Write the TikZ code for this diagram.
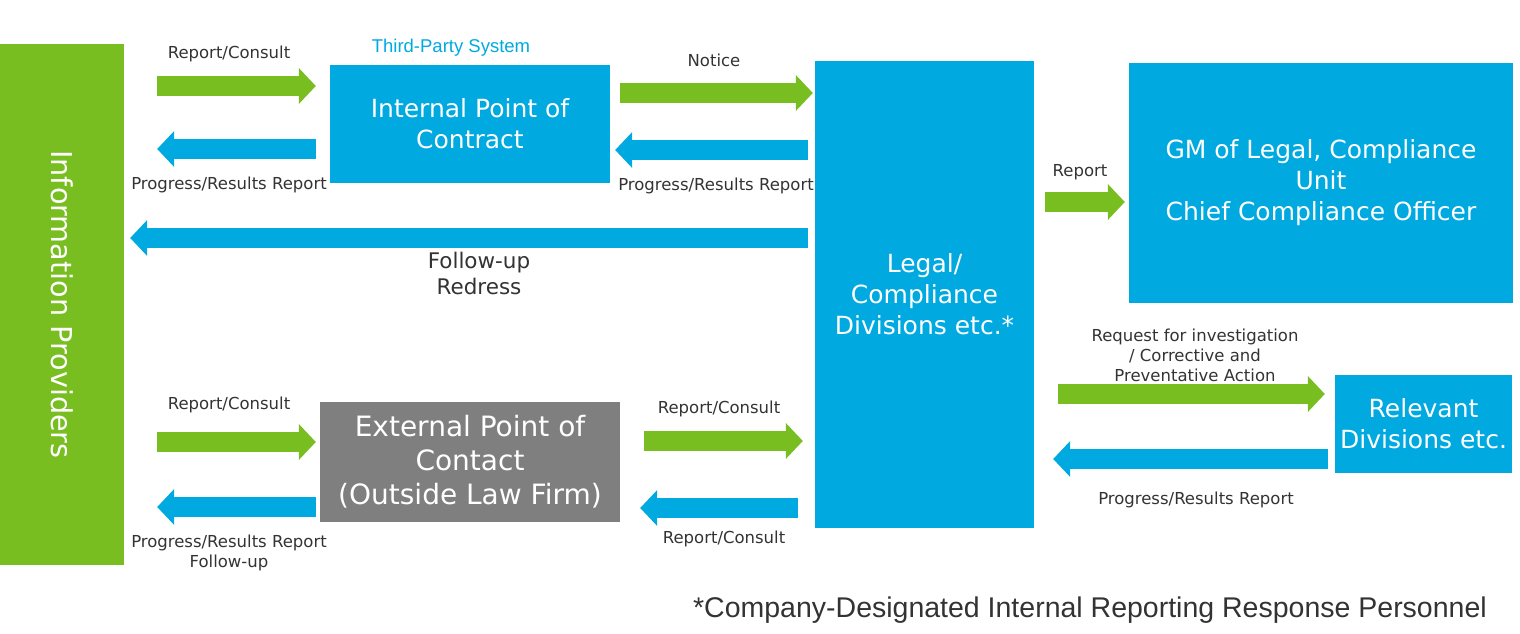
\documentclass[tikz,border=0pt]{standalone}
\usepackage{fontspec}
\setmainfont{DejaVu Sans}
\newfontfamily\arialfont{Liberation Sans}
\usepackage{tikz}
\usetikzlibrary{arrows.meta, positioning}

\definecolor{grn}{HTML}{78BE20}
\definecolor{blu}{HTML}{00A9E0}
\definecolor{gry}{HTML}{7F7F7F}
\definecolor{txt}{HTML}{333333}

\begin{document}
\begin{tikzpicture}[
  x=1pt, y=-1pt,
  box/.style={fill=blu, text=white, align=center, inner sep=0pt, font=\fontsize{25}{31}\selectfont},
  lbl/.style={text=txt, align=center, inner sep=0pt, font=\fontsize{16.5}{20}\selectfont},
  garrow/.style={draw=grn, line width=20pt, -{Triangle[length=17pt, width=36pt, line width=0pt]}},
  barrow/.style={draw=blu, line width=20pt, -{Triangle[length=17pt, width=36pt, line width=0pt]}}
]
\useasboundingbox (0,0) rectangle (1520,634);

% boxes
\node[box, fill=grn, minimum width=124pt, minimum height=521pt, font=\fontsize{28.7}{34}\selectfont] (info) at (62,304.5) {\rotatebox{-90}{Information Providers}};
\node[box, minimum width=280pt, minimum height=118pt] (ip) at (470,124) {Internal Point of\\Contract};
\node[box, minimum width=219pt, minimum height=467pt] (legal) at (924.5,294.5) {Legal/\\Compliance\\Divisions etc.*};
\node[box, minimum width=384pt, minimum height=240pt] (gm) at (1321,183) {GM of Legal, Compliance\\Unit\\Chief Compliance Officer};
\node[box, fill=gry, minimum width=300pt, minimum height=120pt, font=\fontsize{28}{34}\selectfont] (ext) at (470,462) {External Point of\\Contact\\(Outside Law Firm)};
\node[box, minimum width=177pt, minimum height=98pt] (rel) at (1423.5,424) {Relevant\\Divisions etc.};

% labels
\node[lbl, text=blu, font=\arialfont\fontsize{18.5}{22}\selectfont] (third) at (451,48) {Third-Party System};
\node[lbl] (rc1) at (229,54) {Report/Consult};
\node[lbl] (pr1) at (229,185) {Progress/Results Report};
\node[lbl] (notice) at (714,60) {Notice};
\node[lbl] (pr2) at (716,186) {Progress/Results Report};
\node[lbl, font=\fontsize{21.5}{26}\selectfont] (follow) at (479,273) {Follow-up\\Redress};
\node[lbl] (rep) at (1080,172) {Report};
\node[lbl] (rc2) at (229,405) {Report/Consult};
\node[lbl] (pr3) at (229,553) {Progress/Results Report\\Follow-up};
\node[lbl] (rc3) at (719,409) {Report/Consult};
\node[lbl] (rc4) at (724,539) {Report/Consult};
\node[lbl] (req) at (1195,355) {Request for investigation\\/ Corrective and\\Preventative Action};
\node[lbl] (pr4) at (1196,500) {Progress/Results Report};
\node[lbl, font=\arialfont\fontsize{28.5}{32}\selectfont] (note) at (1090,610) {*Company-Designated Internal Reporting Response Personnel};

% arrows
\draw[garrow, shorten <=33pt, shorten >=14pt] (info.east |- 0,86) -- (ip.west |- 0,86);
\draw[barrow, shorten <=14pt, shorten >=33pt] (ip.west |- 0,149) -- (info.east |- 0,149);
\draw[garrow, shorten <=10pt, shorten >=2pt] (ip.east |- 0,93) -- (legal.west |- 0,93);
\draw[barrow, shorten <=7pt, shorten >=5pt] (legal.west |- 0,150) -- (ip.east |- 0,150);
\draw[barrow, shorten <=7pt, shorten >=6pt] (legal.west |- 0,238) -- (info.east |- 0,238);
\draw[garrow, shorten <=11pt, shorten >=4pt] (legal.east |- 0,202) -- (gm.west |- 0,202);
\draw[garrow, shorten <=33pt, shorten >=4pt] (info.east |- 0,442) -- (ext.west |- 0,442);
\draw[barrow, shorten <=4pt, shorten >=33pt] (ext.west |- 0,507) -- (info.east |- 0,507);
\draw[garrow, shorten <=24pt, shorten >=12pt] (ext.east |- 0,441) -- (legal.west |- 0,441);
\draw[barrow, shorten <=17pt, shorten >=20pt] (legal.west |- 0,508) -- (ext.east |- 0,508);
\draw[garrow, shorten <=24pt, shorten >=10pt] (legal.east |- 0,394) -- (rel.west |- 0,394);
\draw[barrow, shorten <=7pt, shorten >=19pt] (rel.west |- 0,459) -- (legal.east |- 0,459);
\end{tikzpicture}
\end{document}
